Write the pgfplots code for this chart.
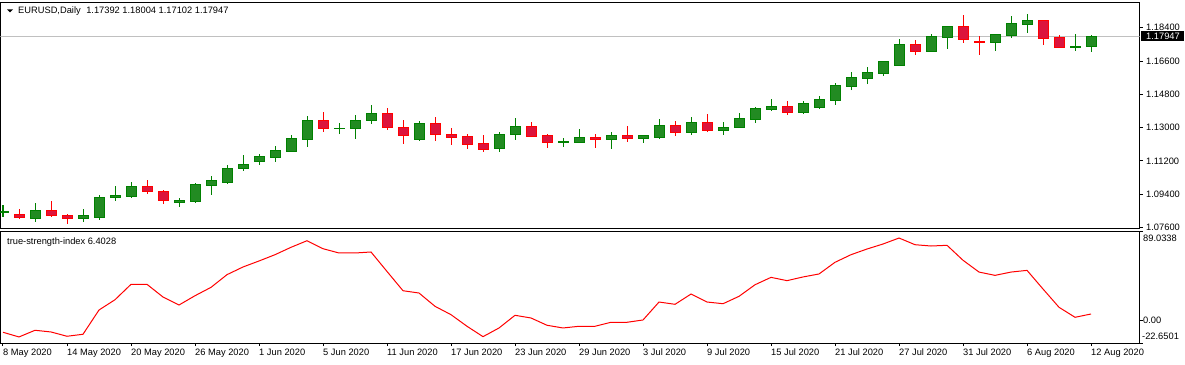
\documentclass[border=0pt]{standalone}
\usepackage{pgfplots}
\pgfplotsset{compat=1.18}
\usepackage{fontspec}
\setmainfont{Liberation Sans}
\definecolor{bullfill}{HTML}{228B22}
\definecolor{bulledge}{HTML}{008000}
\definecolor{bearfill}{HTML}{DC143C}
\definecolor{bearedge}{HTML}{FF0000}
\definecolor{bidgray}{HTML}{C0C0C0}
\newcommand\lf{\fontsize{9.3pt}{10pt}\selectfont}
\newcommand{\candle}[7]{%
 \pgfmathsetmacro\xl{#1-0.3125}\pgfmathsetmacro\xr{#1+0.3125}%
 \addplot[#6, line width=1pt] coordinates {(#1,#4) (#1,#3)};%
 \edef\tmp{\noexpand\addplot[draw=#6, fill=#7, line width=1pt] coordinates {(\xl,#2) (\xr,#2) (\xr,#5) (\xl,#5) (\xl,#2)};}\tmp}
\newcommand{\bull}[5]{\candle{#1}{#2}{#3}{#4}{#5}{bulledge}{bullfill}}
\newcommand{\bear}[5]{\candle{#1}{#2}{#3}{#4}{#5}{bearedge}{bearfill}}
\pgfplotstableread{
i v
0 -11.9
1 -16.6
2 -9.9
3 -11.6
4 -15.9
5 -13.9
6 10.4
7 20.7
8 36.1
9 36.1
10 23.4
11 15.4
12 24.7
13 33.1
14 45.8
15 53.5
16 59.5
17 65.8
18 73.2
19 79.8
20 71.8
21 67.5
22 67.5
23 68.5
24 49.0
25 29.7
26 27.4
27 14.1
28 5.7
29 -5.9
30 -16.3
31 -7.6
32 5.1
33 2.4
34 -4.9
35 -7.6
36 -5.9
37 -5.9
38 -1.9
39 -1.9
40 0.4
41 18.4
42 16.1
43 26.4
44 18.4
45 16.7
46 24.1
47 35.7
48 43.1
49 39.8
50 43.5
51 46.5
52 58.2
53 65.8
54 71.5
55 76.5
56 82.5
57 75.8
58 74.5
59 75.2
60 60.2
61 48.4
62 45.1
63 48.4
64 50.1
65 31.4
66 13.1
67 3.1
68 6.4028
}\tsi
\pgfplotsset{mt/.style={scale only axis, width=1139pt, xmin=-0.15625, xmax=71.03125,
  anchor=south west, axis line style={line width=1pt, black}, tick style={black, line width=1pt},
  tick align=outside, major tick length=3pt,
  every tick label/.append style={font=\lf}, /pgf/number format/assume math mode=true}}
\begin{document}
\begin{tikzpicture}
\path[use as bounding box] (0pt,0pt) rectangle (1185pt,364pt);
\begin{axis}[mt, at={(0.5pt,135pt)}, height=226.5pt,
  ymin=1.075248, ymax=1.197614, xtick=\empty,
  ytick={1.076,1.094,1.112,1.13,1.148,1.166,1.184},
  yticklabels={1.07600,1.09400,1.11200,1.13000,1.14800,1.16600,1.18400},
  ytick pos=right, yticklabel pos=right,
  yticklabel style={anchor=west, inner sep=0pt, xshift=3.5pt}]
\addplot[bidgray, line width=1pt] coordinates {(-1,1.17947) (72,1.17947)};
\bull{0}{1.08405}{1.08821}{1.08189}{1.08459}
\bear{1}{1.08335}{1.08605}{1.08081}{1.08135}
\bull{2}{1.08081}{1.08929}{1.07919}{1.08535}
\bear{3}{1.08535}{1.09037}{1.08189}{1.08243}
\bear{4}{1.08265}{1.08319}{1.07811}{1.08081}
\bull{5}{1.08081}{1.08605}{1.07919}{1.08265}
\bull{6}{1.08135}{1.09362}{1.08027}{1.09237}
\bull{7}{1.09216}{1.09848}{1.09054}{1.09308}
\bull{8}{1.09291}{1.10064}{1.09216}{1.09832}
\bear{9}{1.09832}{1.10172}{1.09432}{1.09540}
\bear{10}{1.09524}{1.09632}{1.08892}{1.09054}
\bull{11}{1.08946}{1.09200}{1.08730}{1.09054}
\bull{12}{1.09000}{1.10010}{1.08946}{1.09902}
\bull{13}{1.09864}{1.10388}{1.09378}{1.10118}
\bull{14}{1.10026}{1.10982}{1.09972}{1.10820}
\bull{15}{1.10782}{1.11523}{1.10674}{1.11036}
\bull{16}{1.11161}{1.11577}{1.10999}{1.11415}
\bull{17}{1.11377}{1.12009}{1.11161}{1.11739}
\bull{18}{1.11701}{1.12603}{1.11701}{1.12387}
\bull{19}{1.12349}{1.13630}{1.11971}{1.13413}
\bear{20}{1.13413}{1.13846}{1.12781}{1.12965}
\bull{21}{1.12943}{1.13251}{1.12657}{1.12965}
\bull{22}{1.12943}{1.13684}{1.12403}{1.13413}
\bull{23}{1.13376}{1.14224}{1.13214}{1.13738}
\bear{24}{1.13738}{1.14062}{1.12889}{1.12997}
\bear{25}{1.13035}{1.13413}{1.12133}{1.12565}
\bull{26}{1.12349}{1.13359}{1.12295}{1.13251}
\bear{27}{1.13251}{1.13576}{1.12295}{1.12619}
\bear{28}{1.12657}{1.12981}{1.12079}{1.12457}
\bear{29}{1.12495}{1.12657}{1.11863}{1.12079}
\bear{30}{1.12117}{1.12603}{1.11701}{1.11809}
\bull{31}{1.11863}{1.12765}{1.11701}{1.12657}
\bull{32}{1.12619}{1.13522}{1.12349}{1.13089}
\bear{33}{1.13089}{1.13305}{1.12511}{1.12511}
\bear{34}{1.12549}{1.12657}{1.11917}{1.12187}
\bull{35}{1.12209}{1.12441}{1.11971}{1.12241}
\bull{36}{1.12187}{1.12927}{1.12187}{1.12441}
\bear{37}{1.12441}{1.12657}{1.11917}{1.12349}
\bull{38}{1.12349}{1.12765}{1.11863}{1.12549}
\bear{39}{1.12549}{1.13089}{1.12241}{1.12403}
\bull{40}{1.12403}{1.12549}{1.12187}{1.12549}
\bull{41}{1.12457}{1.13468}{1.12403}{1.13143}
\bear{42}{1.13143}{1.13359}{1.12565}{1.12727}
\bull{43}{1.12727}{1.13576}{1.12619}{1.13305}
\bear{44}{1.13305}{1.13738}{1.12781}{1.12835}
\bull{45}{1.12835}{1.13305}{1.12619}{1.13035}
\bull{46}{1.12997}{1.13792}{1.12997}{1.13468}
\bull{47}{1.13430}{1.14116}{1.13268}{1.14008}
\bull{48}{1.13970}{1.14548}{1.13916}{1.14116}
\bear{49}{1.14116}{1.14440}{1.13700}{1.13792}
\bull{50}{1.13792}{1.14440}{1.13754}{1.14278}
\bull{51}{1.14078}{1.14710}{1.14024}{1.14494}
\bull{52}{1.14440}{1.15412}{1.14224}{1.15304}
\bull{53}{1.15250}{1.16007}{1.15034}{1.15683}
\bull{54}{1.15629}{1.16277}{1.15358}{1.15953}
\bull{55}{1.15899}{1.16601}{1.15791}{1.16547}
\bull{56}{1.16347}{1.17790}{1.16347}{1.17519}
\bear{57}{1.17519}{1.17735}{1.16925}{1.17103}
\bull{58}{1.17103}{1.18060}{1.17103}{1.17898}
\bull{59}{1.17860}{1.18492}{1.17265}{1.18438}
\bear{60}{1.18438}{1.19086}{1.17590}{1.17752}
\bear{61}{1.17681}{1.17952}{1.16941}{1.17590}
\bull{62}{1.17590}{1.18060}{1.17157}{1.18006}
\bull{63}{1.17968}{1.19032}{1.17860}{1.18600}
\bull{64}{1.18562}{1.19140}{1.18130}{1.18762}
\bear{65}{1.18762}{1.18816}{1.17482}{1.17806}
\bear{66}{1.17844}{1.18006}{1.17320}{1.17320}
\bull{67}{1.17320}{1.18060}{1.17157}{1.17411}
\bull{68}{1.17392}{1.18004}{1.17102}{1.17947}
\end{axis}
\begin{axis}[mt, at={(0.5pt,21pt)}, height=111.5pt,
  ymin=-22.6501, ymax=89.0338,
  ytick={-22.6501,0,89.0338}, yticklabels={,,}, ytick pos=right,
  xtick={0,4,...,68}, xtick pos=bottom,
  xticklabels={8 May 2020,14 May 2020,20 May 2020,26 May 2020,1 Jun 2020,5 Jun 2020,11 Jun 2020,17 Jun 2020,23 Jun 2020,29 Jun 2020,3 Jul 2020,9 Jul 2020,15 Jul 2020,21 Jul 2020,27 Jul 2020,31 Jul 2020,6 Aug 2020,12 Aug 2020},
  xticklabel style={anchor=base west, inner sep=0pt, yshift=-9pt}]
\addplot[red, line width=1pt] table[x=i, y=v] {\tsi};
\end{axis}
\fill[black] (7pt,354.5pt) -- (13pt,354.5pt) -- (10pt,351.5pt) -- cycle;
\node[anchor=base west, inner sep=0pt, font=\lf] at (18pt,350pt) {EURUSD,Daily\hspace{3pt} 1.17392 1.18004 1.17102 1.17947};
\node[anchor=base west, inner sep=0pt, font=\lf] at (7pt,119.5pt) {true-strength-index 6.4028};
\fill[black] (1141pt,323pt) rectangle (1184pt,332.5pt);
\node[anchor=west, inner sep=0pt, font=\lf, text=white] at (1146pt,327.8pt) {1.17947};
\node[anchor=west, inner sep=0pt, font=\lf] at (1143pt,125.3pt) {89.0338};
\node[anchor=west, inner sep=0pt, font=\lf] at (1143pt,43.7pt) {0.00};
\node[anchor=west, inner sep=0pt, font=\lf] at (1142pt,27.7pt) {-22.6501};
\end{tikzpicture}
\end{document}
